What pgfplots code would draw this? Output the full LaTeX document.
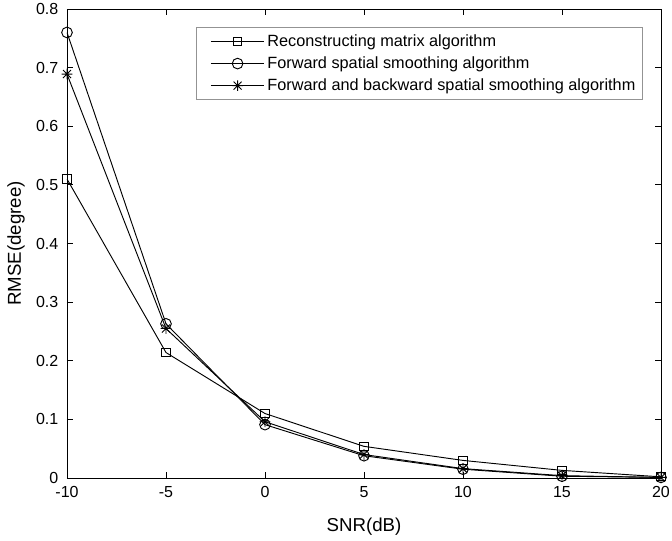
\documentclass[border=0pt]{standalone}
\usepackage{fontspec}
\setmainfont{Liberation Sans}
\usepackage{pgfplots}
\pgfplotsset{compat=1.18}
\pgfdeclareplotmark{mstar}{%
  \pgfpathmoveto{\pgfqpoint{-\pgfplotmarksize}{0pt}}\pgfpathlineto{\pgfqpoint{\pgfplotmarksize}{0pt}}%
  \pgfpathmoveto{\pgfqpoint{0pt}{-\pgfplotmarksize}}\pgfpathlineto{\pgfqpoint{0pt}{\pgfplotmarksize}}%
  \pgfpathmoveto{\pgfqpoint{-0.75\pgfplotmarksize}{-0.75\pgfplotmarksize}}\pgfpathlineto{\pgfqpoint{0.75\pgfplotmarksize}{0.75\pgfplotmarksize}}%
  \pgfpathmoveto{\pgfqpoint{-0.75\pgfplotmarksize}{0.75\pgfplotmarksize}}\pgfpathlineto{\pgfqpoint{0.75\pgfplotmarksize}{-0.75\pgfplotmarksize}}%
  \pgfusepathqstroke}
\begin{document}
\begin{tikzpicture}
\useasboundingbox (-50.25pt,-46.5pt) rectangle (453.75pt,358.5pt);
\begin{axis}[
  at={(0,0)}, anchor=south west,
  scale only axis, width=445.5pt, height=351.75pt,
  xmin=-10, xmax=20, ymin=0, ymax=0.8,
  xtick={-10,-5,0,5,10,15,20},
  ytick={0,0.1,0.2,0.3,0.4,0.5,0.6,0.7,0.8},
  yticklabel style={/pgf/number format/fixed, xshift=-3pt},
  xticklabel style={yshift=-3pt},
  /pgf/number format/assume math mode=true,
  tick align=inside, tick pos=both,
  major tick length=4.5pt,
  tick label style={font=\fontsize{12}{14}\selectfont},
  xlabel={SNR(dB)}, ylabel={RMSE(degree)},
  label style={font=\fontsize{14}{16}\selectfont},
  xlabel style={at={(axis description cs:0.5,-0.1045)}, anchor=center},
  ylabel style={at={(axis description cs:-0.0859,0.5)}, anchor=center},
  axis line style={line width=0.7pt},
  every tick/.style={black, line width=0.6pt},
  legend style={at={(0.970,0.962)}, anchor=north east, draw=gray!85, line width=0.7pt,
    font=\fontsize{12.2}{14}\selectfont, row sep=2.2pt, inner sep=3.5pt},
  legend cell align=left,
  legend image code/.code={
    \path[draw=none] (-7pt,-1pt) rectangle (0pt,1pt);
    \draw[#1, mark repeat=2, mark phase=2] plot coordinates {(0pt,0pt) (20pt,0pt) (40pt,0pt)};
  },
]
\addplot[black, line width=0.7pt, mark=square, mark size=3.1pt, mark options={solid}] coordinates {
(-10,0.510) (-5,0.214) (0,0.110) (5,0.054) (10,0.030) (15,0.013) (20,0.002)};
\addlegendentry{Reconstructing matrix algorithm}
\addplot[black, line width=0.7pt, mark=o, mark size=4pt, mark options={solid}] coordinates {
(-10,0.760) (-5,0.263) (0,0.091) (5,0.038) (10,0.015) (15,0.003) (20,0.001)};
\addlegendentry{Forward spatial smoothing algorithm}
\addplot[black, line width=0.7pt, mark=mstar, mark size=4pt, mark options={solid}] coordinates {
(-10,0.689) (-5,0.255) (0,0.096) (5,0.040) (10,0.016) (15,0.004) (20,0.001)};
\addlegendentry{Forward and backward spatial smoothing algorithm}
\end{axis}
\end{tikzpicture}
\end{document}
